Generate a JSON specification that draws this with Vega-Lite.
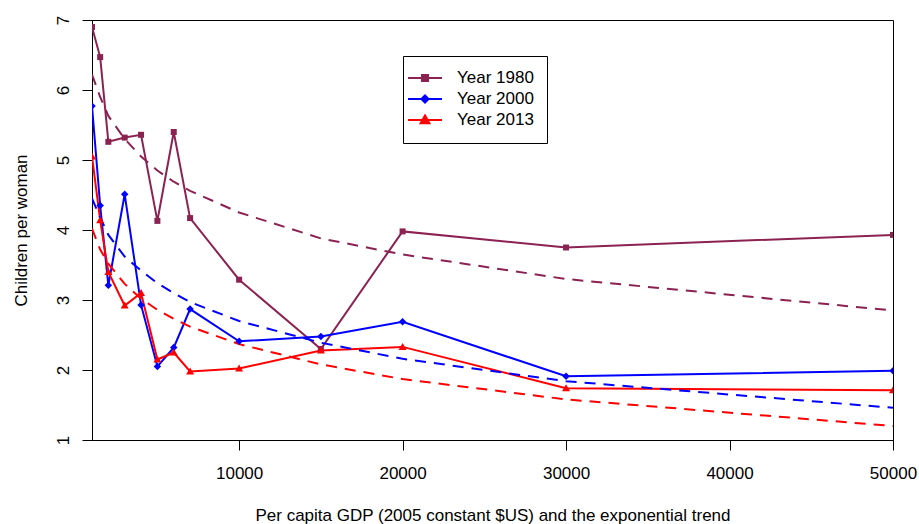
{
  "$schema": "https://vega.github.io/schema/vega-lite/v6.json",
  "width": 801,
  "height": 420,
  "autosize": {"type": "none"},
  "padding": {"left": 92, "top": 20, "right": 26, "bottom": 84},
  "background": "#ffffff",
  "config": {
    "font": "Liberation Sans",
    "view": {"stroke": "#000000", "strokeWidth": 1},
    "axis": {"grid": false, "domainColor": "#000000", "tickColor": "#000000", "tickSize": 10, "labelColor": "#000000", "titleColor": "#000000", "labelFontSize": 17, "titleFontSize": 17, "titleFontWeight": "normal", "labelFont": "Liberation Sans", "titleFont": "Liberation Sans"},
    "legend": {"orient": "none", "legendX": 311, "legendY": 36, "padding": 13, "strokeColor": "#000000", "fillColor": "#ffffff", "symbolSize": 256, "symbolOpacity": 1, "symbolStrokeWidth": 2, "labelFontSize": 17, "labelFont": "Liberation Sans", "labelColor": "#000000", "labelOffset": 23, "rowPadding": 4}
  },
  "datasets": {
    "obs": [
      {"series": "Year 1980", "gdp": 1000, "fert": 6.90},
      {"series": "Year 1980", "gdp": 1500, "fert": 6.47},
      {"series": "Year 1980", "gdp": 2000, "fert": 5.26},
      {"series": "Year 1980", "gdp": 3000, "fert": 5.32},
      {"series": "Year 1980", "gdp": 4000, "fert": 5.36},
      {"series": "Year 1980", "gdp": 5000, "fert": 4.13},
      {"series": "Year 1980", "gdp": 6000, "fert": 5.40},
      {"series": "Year 1980", "gdp": 7000, "fert": 4.17},
      {"series": "Year 1980", "gdp": 10000, "fert": 3.29},
      {"series": "Year 1980", "gdp": 15000, "fert": 2.30},
      {"series": "Year 1980", "gdp": 20000, "fert": 3.98},
      {"series": "Year 1980", "gdp": 30000, "fert": 3.75},
      {"series": "Year 1980", "gdp": 50000, "fert": 3.93},
      {"series": "Year 2000", "gdp": 1000, "fert": 5.77},
      {"series": "Year 2000", "gdp": 1500, "fert": 4.35},
      {"series": "Year 2000", "gdp": 2000, "fert": 3.21},
      {"series": "Year 2000", "gdp": 3000, "fert": 4.51},
      {"series": "Year 2000", "gdp": 4000, "fert": 2.93},
      {"series": "Year 2000", "gdp": 5000, "fert": 2.05},
      {"series": "Year 2000", "gdp": 6000, "fert": 2.32},
      {"series": "Year 2000", "gdp": 7000, "fert": 2.87},
      {"series": "Year 2000", "gdp": 10000, "fert": 2.41},
      {"series": "Year 2000", "gdp": 15000, "fert": 2.48},
      {"series": "Year 2000", "gdp": 20000, "fert": 2.69},
      {"series": "Year 2000", "gdp": 30000, "fert": 1.91},
      {"series": "Year 2000", "gdp": 50000, "fert": 1.99},
      {"series": "Year 2013", "gdp": 1000, "fert": 5.05},
      {"series": "Year 2013", "gdp": 1500, "fert": 4.14},
      {"series": "Year 2013", "gdp": 2000, "fert": 3.40},
      {"series": "Year 2013", "gdp": 3000, "fert": 2.92},
      {"series": "Year 2013", "gdp": 4000, "fert": 3.10},
      {"series": "Year 2013", "gdp": 5000, "fert": 2.15},
      {"series": "Year 2013", "gdp": 6000, "fert": 2.25},
      {"series": "Year 2013", "gdp": 7000, "fert": 1.98},
      {"series": "Year 2013", "gdp": 10000, "fert": 2.02},
      {"series": "Year 2013", "gdp": 15000, "fert": 2.28},
      {"series": "Year 2013", "gdp": 20000, "fert": 2.33},
      {"series": "Year 2013", "gdp": 30000, "fert": 1.74},
      {"series": "Year 2013", "gdp": 50000, "fert": 1.71}
    ],
    "trend": [
      {"series": "Year 1980", "gdp": 1000, "fert": 6.22},
      {"series": "Year 1980", "gdp": 1500, "fert": 5.90},
      {"series": "Year 1980", "gdp": 2000, "fert": 5.63},
      {"series": "Year 1980", "gdp": 3000, "fert": 5.30},
      {"series": "Year 1980", "gdp": 4000, "fert": 5.05},
      {"series": "Year 1980", "gdp": 5000, "fert": 4.85},
      {"series": "Year 1980", "gdp": 6000, "fert": 4.69},
      {"series": "Year 1980", "gdp": 7000, "fert": 4.56},
      {"series": "Year 1980", "gdp": 10000, "fert": 4.25},
      {"series": "Year 1980", "gdp": 15000, "fert": 3.88},
      {"series": "Year 1980", "gdp": 20000, "fert": 3.65},
      {"series": "Year 1980", "gdp": 30000, "fert": 3.30},
      {"series": "Year 1980", "gdp": 50000, "fert": 2.85},
      {"series": "Year 2000", "gdp": 1000, "fert": 4.45},
      {"series": "Year 2000", "gdp": 1500, "fert": 4.18},
      {"series": "Year 2000", "gdp": 2000, "fert": 3.93},
      {"series": "Year 2000", "gdp": 3000, "fert": 3.62},
      {"series": "Year 2000", "gdp": 4000, "fert": 3.42},
      {"series": "Year 2000", "gdp": 5000, "fert": 3.24},
      {"series": "Year 2000", "gdp": 6000, "fert": 3.10},
      {"series": "Year 2000", "gdp": 7000, "fert": 2.97},
      {"series": "Year 2000", "gdp": 10000, "fert": 2.70},
      {"series": "Year 2000", "gdp": 15000, "fert": 2.39},
      {"series": "Year 2000", "gdp": 20000, "fert": 2.16},
      {"series": "Year 2000", "gdp": 30000, "fert": 1.84},
      {"series": "Year 2000", "gdp": 50000, "fert": 1.46},
      {"series": "Year 2013", "gdp": 1000, "fert": 4.02},
      {"series": "Year 2013", "gdp": 1500, "fert": 3.72},
      {"series": "Year 2013", "gdp": 2000, "fert": 3.52},
      {"series": "Year 2013", "gdp": 3000, "fert": 3.23},
      {"series": "Year 2013", "gdp": 4000, "fert": 3.02},
      {"series": "Year 2013", "gdp": 5000, "fert": 2.86},
      {"series": "Year 2013", "gdp": 6000, "fert": 2.73},
      {"series": "Year 2013", "gdp": 7000, "fert": 2.62},
      {"series": "Year 2013", "gdp": 10000, "fert": 2.37},
      {"series": "Year 2013", "gdp": 15000, "fert": 2.08},
      {"series": "Year 2013", "gdp": 20000, "fert": 1.87},
      {"series": "Year 2013", "gdp": 30000, "fert": 1.58},
      {"series": "Year 2013", "gdp": 50000, "fert": 1.20}
    ]
  },
  "encoding": {
    "x": {
      "field": "gdp", "type": "quantitative",
      "scale": {"domain": [1000, 50000], "nice": false, "zero": false},
      "axis": {"values": [10000, 20000, 30000, 40000, 50000], "format": "d", "labelPadding": 15, "labelFlush": false, "labelBaseline": "top", "title": "Per capita GDP (2005 constant $US) and the exponential trend", "titlePadding": 26}
    },
    "y": {
      "field": "fert", "type": "quantitative",
      "scale": {"domain": [1, 7], "nice": false, "zero": false},
      "axis": {"values": [1, 2, 3, 4, 5, 6, 7], "labelAngle": -90, "labelAlign": "center", "labelBaseline": "bottom", "labelPadding": 10, "labelFlush": false, "title": "Children per woman", "titlePadding": 24}
    }
  },
  "layer": [
    {"data": {"name": "obs"}, "transform": [{"filter": "datum.series === 'Year 1980'"}], "mark": {"type": "line", "color": "#8B2252", "strokeWidth": 2, "clip": true}},
    {"data": {"name": "obs"}, "transform": [{"filter": "datum.series === 'Year 2000'"}], "mark": {"type": "line", "color": "#0000FF", "strokeWidth": 2, "clip": true}},
    {"data": {"name": "obs"}, "transform": [{"filter": "datum.series === 'Year 2013'"}], "mark": {"type": "line", "color": "#FF0000", "strokeWidth": 2, "clip": true}},
    {"data": {"name": "trend"}, "transform": [{"filter": "datum.series === 'Year 1980'"}], "mark": {"type": "line", "color": "#8B2252", "strokeWidth": 2, "strokeDash": [11, 8], "clip": true}},
    {"data": {"name": "trend"}, "transform": [{"filter": "datum.series === 'Year 2000'"}], "mark": {"type": "line", "color": "#0000FF", "strokeWidth": 2, "strokeDash": [11, 8], "clip": true}},
    {"data": {"name": "trend"}, "transform": [{"filter": "datum.series === 'Year 2013'"}], "mark": {"type": "line", "color": "#FF0000", "strokeWidth": 2, "strokeDash": [11, 8], "clip": true}},
    {"data": {"name": "obs"}, "transform": [{"filter": "datum.series === 'Year 1980'"}], "mark": {"type": "point", "filled": true, "opacity": 1, "color": "#8B2252", "size": 100, "shape": "M-0.6,-0.6H0.6V0.6H-0.6Z", "clip": true}},
    {"data": {"name": "obs"}, "transform": [{"filter": "datum.series === 'Year 2000'"}], "mark": {"type": "point", "filled": true, "opacity": 1, "color": "#0000FF", "size": 100, "shape": "M0,-0.75L0.75,0L0,0.75L-0.75,0Z", "clip": true}},
    {"data": {"name": "obs"}, "transform": [{"filter": "datum.series === 'Year 2013'"}], "mark": {"type": "point", "filled": true, "opacity": 1, "color": "#FF0000", "size": 100, "shape": "M0,-0.8L0.8,0.6L-0.8,0.6Z", "clip": true}},
    {
      "data": {"name": "obs"},
      "mark": {"type": "point", "filled": true, "opacity": 0, "size": 1, "clip": true},
      "encoding": {
        "color": {"field": "series", "type": "nominal", "scale": {"domain": ["Year 1980", "Year 2000", "Year 2013"], "range": ["#8B2252", "#0000FF", "#FF0000"]}, "legend": {"title": " ", "titleOrient": "bottom", "titleFontSize": 2, "titlePadding": 0, "symbolOpacity": 1}},
        "stroke": {"field": "series", "type": "nominal", "scale": {"domain": ["Year 1980", "Year 2000", "Year 2013"], "range": ["#8B2252", "#0000FF", "#FF0000"]}, "legend": {"title": " ", "titleOrient": "bottom", "titleFontSize": 2, "titlePadding": 0, "symbolOpacity": 1}},
        "shape": {"field": "series", "type": "nominal", "scale": {"domain": ["Year 1980", "Year 2000", "Year 2013"], "range": ["M-2.125,0H2.125M-0.38,-0.38H0.38V0.38H-0.38Z", "M-2.125,0H2.125M0,-0.45L0.45,0L0,0.45L-0.45,0Z", "M-2.125,0H2.125M0,-0.55L0.55,0.42L-0.55,0.42Z"]}, "legend": {"title": " ", "titleOrient": "bottom", "titleFontSize": 2, "titlePadding": 0, "symbolOpacity": 1}}
      }
    }
  ]
}
